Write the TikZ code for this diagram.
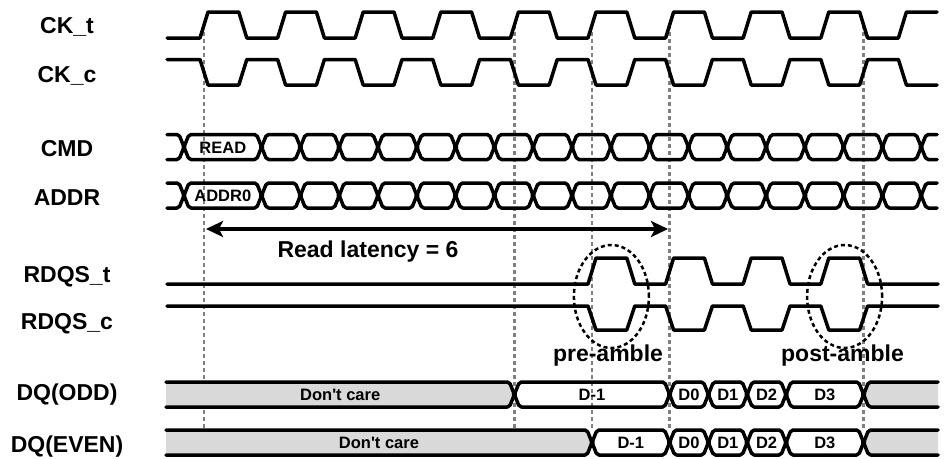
\documentclass[tikz,border=0pt]{standalone}
\usepackage{fontspec}
\setmainfont{Liberation Sans}
\usetikzlibrary{shapes.geometric,arrows.meta}
\newcommand{\dxw}{5}
\newcommand{\hexcell}[5][]{\draw[bus,#1] (#2,{(#4+#5)/2}) -- ({#2+\dxw},#4) -- ({#3-\dxw},#4) -- (#3,{(#4+#5)/2}) -- ({#3-\dxw},#5) -- ({#2+\dxw},#5) -- cycle;}
\newcommand{\openleft}[5][]{\draw[bus,#1] (#2,#4) -- ({#3-\dxw},#4) -- (#3,{(#4+#5)/2}) -- ({#3-\dxw},#5) -- (#2,#5);}
\newcommand{\openright}[5][]{\draw[bus,#1] (#2,#4) -- ({#3+\dxw},#4) -- (#3,{(#4+#5)/2}) -- ({#3+\dxw},#5) -- (#2,#5);}
\begin{document}
\begin{tikzpicture}[x=1pt,y=-1pt,
  wave/.style={line width=3.5pt,line join=round,line cap=round},
  bus/.style={wave,rounded corners=2pt},
  guide/.style={draw=black!50,line width=2.5pt,dash pattern=on 4pt off 3pt},
  oval/.style={ellipse,draw,line width=2.5pt,dash pattern=on 4pt off 3pt,inner sep=0pt,minimum width=75pt,minimum height=103pt},
  lbl/.style={font=\fontsize{23}{27}\selectfont\bfseries,anchor=base,inner sep=0pt},
  celltxt/.style={font=\fontsize{16.5}{20}\selectfont\bfseries,inner sep=0pt},
  dc/.style={fill=black!15}]
\def\xo{204}\def\T{77.6}\def\e{4}
\fill[white] (0,0) rectangle (944,458);
\useasboundingbox (0,0) rectangle (944,458);

% guide lines
\foreach \k in {0,4,5,6,8.5} \draw[guide] ({\xo+\k*\T},25) -- ({\xo+\k*\T},430);

% clocks
\draw[wave] (167,38) foreach \k in {0,...,8} { -- ({\xo+\k*\T-\e},38) -- ({\xo+\k*\T+\e},12) -- ({\xo+(\k+0.5)*\T-\e},12) -- ({\xo+(\k+0.5)*\T+\e},38) } -- ({\xo+9*\T-\e},38) -- ({\xo+9*\T+\e},12) -- (937,12);
\draw[wave] (167,59.5) foreach \k in {0,...,8} { -- ({\xo+\k*\T-\e},59.5) -- ({\xo+\k*\T+\e},85) -- ({\xo+(\k+0.5)*\T-\e},85) -- ({\xo+(\k+0.5)*\T+\e},59.5) } -- ({\xo+9*\T-\e},59.5) -- ({\xo+9*\T+\e},85) -- (937,85);

% CMD / ADDR buses
\foreach \yt/\yb in {134.5/159.5,183/208}{
  \openleft{167}{184}{\yt}{\yb}
  \hexcell{184}{261.6}{\yt}{\yb}
  \foreach \n in {2,...,18}{
    \pgfmathsetmacro{\ca}{184+\n*38.8}
    \pgfmathsetmacro{\cb}{184+(\n+1)*38.8}
    \hexcell{\ca}{\cb}{\yt}{\yb}
  }
  \openright{937}{921.2}{\yt}{\yb}
}

% RDQS
\draw[wave] (167,284) foreach \k in {5,...,8} { -- ({\xo+\k*\T-\e},284) -- ({\xo+\k*\T+\e},258) -- ({\xo+(\k+0.5)*\T-\e},258) -- ({\xo+(\k+0.5)*\T+\e},284) } -- (938,284);
\draw[wave] (167,306) foreach \k in {5,...,8} { -- ({\xo+\k*\T-\e},306) -- ({\xo+\k*\T+\e},330) -- ({\xo+(\k+0.5)*\T-\e},330) -- ({\xo+(\k+0.5)*\T+\e},306) } -- (938,306);

% DQ(ODD)
\openleft[dc]{166}{514.4}{382}{407}
\hexcell{514.4}{669.6}{382}{407}
\hexcell{669.6}{708.4}{382}{407}
\hexcell{708.4}{747.2}{382}{407}
\hexcell{747.2}{786}{382}{407}
\hexcell{786}{863.6}{382}{407}
\openright[dc]{938}{863.6}{382}{407}
% DQ(EVEN)
\openleft[dc]{166}{592}{430}{455}
\hexcell{592}{669.6}{430}{455}
\hexcell{669.6}{708.4}{430}{455}
\hexcell{708.4}{747.2}{430}{455}
\hexcell{747.2}{786}{430}{455}
\hexcell{786}{863.6}{430}{455}
\openright[dc]{938}{863.6}{430}{455}

% ellipses
\node[oval] (preov) at (611.4,296.5) {};
\node[oval] (postov) at (844.6,296.5) {};

% latency arrow
\coordinate (la) at (206,229);
\coordinate (lb) at (668,229);
\draw[line width=3.5pt,{Stealth[length=17pt,width=16pt,inset=4pt]}-{Stealth[length=17pt,width=16pt,inset=4pt]}] (la) -- (lb);

% labels
\node[lbl] (lckt) at (67,33) {CK\_t};
\node[lbl] (lckc) at (67,82) {CK\_c};
\node[lbl] (lcmd) at (67,156) {CMD};
\node[lbl] (laddr) at (67,205) {ADDR};
\node[lbl] (lrt) at (67,282) {RDQS\_t};
\node[lbl] (lrc) at (67,329) {RDQS\_c};
\node[lbl] (lodd) at (67,400) {DQ(ODD)};
\node[lbl] (leven) at (67,452) {DQ(EVEN)};
\node[lbl] (rl) at (368,257) {Read latency = 6};
\node[lbl] (pre) at (608,361) {pre-amble};
\node[lbl] (post) at (842.5,361) {post-amble};

% cell texts
\node[celltxt] (tread) at (222.8,147.5) {READ};
\node[celltxt] (taddr) at (222.8,196) {ADDR0};
\node[celltxt] (odc) at (340.2,395) {Don\textquotesingle t care};
\node[celltxt] (odm) at (592,395) {D-1};
\node[celltxt] (od0) at (689,395) {D0};
\node[celltxt] (od1) at (727.8,395) {D1};
\node[celltxt] (od2) at (766.6,395) {D2};
\node[celltxt] (od3) at (824.8,395) {D3};
\node[celltxt] (edc) at (379,443) {Don\textquotesingle t care};
\node[celltxt] (edm) at (630.8,443) {D-1};
\node[celltxt] (ed0) at (689,443) {D0};
\node[celltxt] (ed1) at (727.8,443) {D1};
\node[celltxt] (ed2) at (766.6,443) {D2};
\node[celltxt] (ed3) at (824.8,443) {D3};
\end{tikzpicture}
\end{document}
